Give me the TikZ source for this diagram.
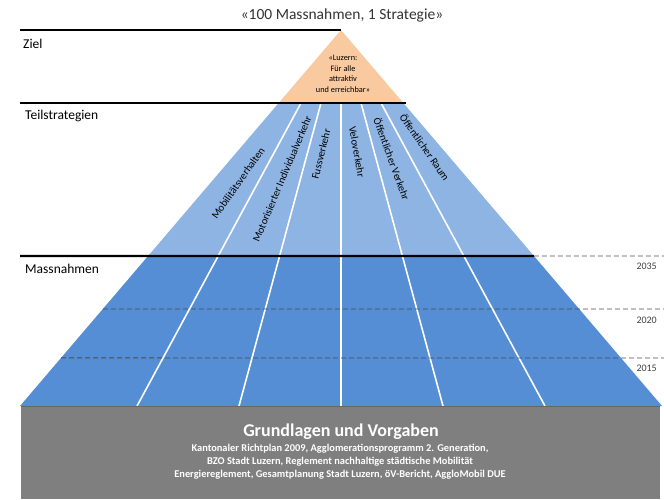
\documentclass[tikz,border=0pt]{standalone}
\usepackage{fontspec}
\setmainfont{Carlito}
\usetikzlibrary{calc}

\definecolor{zielorange}{HTML}{F9C9A0}
\definecolor{teilblue}{HTML}{8EB4E3}
\definecolor{massblue}{HTML}{558ED5}
\definecolor{basegray}{HTML}{7F7F7F}

\begin{document}
\begin{tikzpicture}[x=1pt, y=-1pt,
    every node/.style={font=\small, inner sep=1pt},
    levelline/.style={line width=2.2pt, black},
    yearline/.style={dashed, dash pattern=on 5pt off 3pt, thick, black!70},
    divider/.style={white, line width=1.6pt},
    levellabel/.style={anchor=west, font=\fontsize{13.5}{15}\selectfont},
    sectorlabel/.style={font=\fontsize{10.6}{12}\selectfont},
    yearlabel/.style={anchor=east, font=\fontsize{10}{11}\selectfont, black!75}]
        \useasboundingbox (0,0) rectangle (664,499);

        % pyramid corners
        \coordinate (apex) at (341,30);
        \coordinate (bl) at (20,406);
        \coordinate (br) at (662,406);
        \coordinate (tl) at ($(apex)!0.194!(bl)$);
        \coordinate (tr) at ($(apex)!0.194!(br)$);
        \coordinate (ml) at ($(apex)!0.601!(bl)$);
        \coordinate (mr) at ($(apex)!0.601!(br)$);
        \coordinate (l2020) at ($(apex)!0.742!(bl)$);
        \coordinate (l2015) at ($(apex)!0.872!(bl)$);

        % layers
        \fill[zielorange] (apex) -- (tr) -- (tl) -- cycle;
        \fill[teilblue] (tl) -- (tr) -- (mr) -- (ml) -- cycle;
        \fill[massblue] (ml) -- (mr) -- (br) -- (bl) -- cycle;

        % sector dividers
        \foreach \xt/\xb in {301/137, 321/239, 341/341, 361/443, 381/545}
            \draw[divider] (\xt,103) -- (\xb,406);

        % level lines
        \draw[levelline] (20,30) -- (apex);
        \draw[levelline] (20,103) -- (406,103);
        \draw[levelline] (20,256) -- (mr);
        \draw[yearline] (mr) -- (664,256);
        \draw[yearline] (l2020) -- (664,309);
        \draw[yearline] (l2015) -- (664,358);

        % foundation
        \fill[basegray] (21,406) rectangle (660,499);
        \draw[black!60, thick] (21,406) -- (660,406);

        % nodes
        \node[font=\fontsize{15.5}{17}\selectfont, black!80] (motto) at (342,15) {«100 Massnahmen, 1 Strategie»};
        \node[levellabel] (ziel) at (22,44) {Ziel};
        \node[levellabel] (teil) at (24,116) {Teilstrategien};
        \node[levellabel] (mass) at (24,269) {Massnahmen};
        \node[align=center, font=\fontsize{8.3}{10.6}\selectfont] (vision) at (343,74) {«Luzern:\\Für alle\\attraktiv\\und erreichbar»};

        \node[sectorlabel, rotate=55] (mobil) at (238,183) {Mobilitätsverhalten};
        \node[sectorlabel, rotate=67] (miv) at (282,179) {Motorisierter Individualverkehr};
        \node[sectorlabel, rotate=76] (fuss) at (321,154) {Fussverkehr};
        \node[sectorlabel, rotate=-80] (velo) at (357,152) {Veloverkehr};
        \node[sectorlabel, rotate=-70] (oev) at (392,159) {Öffentlicher Verkehr};
        \node[sectorlabel, rotate=-55] (raum) at (425,147) {Öffentlicher Raum};

        \node[yearlabel] (y2035) at (658,266) {2035};
        \node[yearlabel] (y2020) at (658,320) {2020};
        \node[yearlabel] (y2015) at (658,368) {2015};

        \node[white, font=\fontsize{18}{20}\selectfont\bfseries] (grund) at (341,432) {Grundlagen und Vorgaben};
        \node[white, align=center, font=\fontsize{10.4}{13}\selectfont\bfseries, below=0pt] (vorgaben) at (340,443)
            {Kantonaler Richtplan 2009, Agglomerationsprogramm 2. Generation,\\
             BZO Stadt Luzern, Reglement nachhaltige städtische Mobilität\\
             Energiereglement, Gesamtplanung Stadt Luzern, öV-Bericht, AggloMobil DUE};
    \end{tikzpicture}
\end{document}
